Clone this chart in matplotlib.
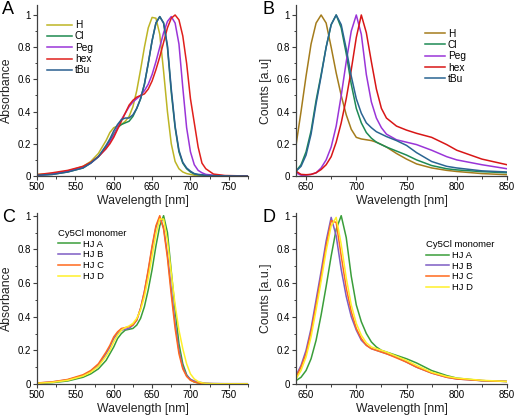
import numpy as np
import matplotlib.pyplot as plt
from matplotlib.ticker import MultipleLocator

plt.rcParams['font.family'] = ['Liberation Sans', 'DejaVu Sans']

# panel A: absorbance of the dyes
wl_a = [500, 520, 540, 560, 570, 580, 590, 595, 600, 605, 610, 615, 620, 625, 630, 635, 640, 645,
        650, 655, 660, 665, 670, 675, 680, 685, 690, 695, 700, 705, 710, 715, 720, 730, 745, 775]
abs_h = [0.01, 0.015, 0.03, 0.06, 0.09, 0.14, 0.22, 0.27, 0.30, 0.31, 0.32, 0.34, 0.37, 0.43, 0.53, 0.66, 0.80, 0.92,
         0.985, 0.98, 0.88, 0.65, 0.40, 0.20, 0.09, 0.045, 0.025, 0.015, 0.01, 0.005, 0.003, 0.001, 0.001, 0, 0, 0]
abs_cl = [0.005, 0.01, 0.025, 0.05, 0.08, 0.12, 0.18, 0.22, 0.26, 0.30, 0.32, 0.33, 0.34, 0.37, 0.42, 0.48, 0.57, 0.70,
          0.84, 0.95, 0.99, 0.95, 0.80, 0.52, 0.30, 0.15, 0.08, 0.045, 0.025, 0.012, 0.008, 0.006, 0.003, 0.001, 0, 0]
abs_peg = [0.005, 0.012, 0.03, 0.055, 0.08, 0.12, 0.17, 0.21, 0.25, 0.30, 0.35, 0.39, 0.43, 0.46, 0.48, 0.50, 0.53, 0.57,
           0.63, 0.71, 0.80, 0.89, 0.96, 0.99, 0.95, 0.82, 0.55, 0.30, 0.15, 0.07, 0.035, 0.02, 0.01, 0.005, 0.001, 0]
abs_hex = [0.008, 0.02, 0.035, 0.06, 0.085, 0.12, 0.17, 0.20, 0.24, 0.29, 0.34, 0.39, 0.44, 0.47, 0.49, 0.50, 0.51, 0.54,
           0.59, 0.66, 0.74, 0.83, 0.92, 0.98, 1.0, 0.97, 0.87, 0.70, 0.48, 0.33, 0.18, 0.08, 0.045, 0.012, 0.003, 0]
abs_tbu = [0.005, 0.01, 0.025, 0.05, 0.08, 0.12, 0.19, 0.23, 0.28, 0.32, 0.35, 0.36, 0.36, 0.38, 0.42, 0.48, 0.57, 0.70,
           0.84, 0.95, 0.99, 0.95, 0.81, 0.54, 0.31, 0.16, 0.085, 0.05, 0.03, 0.015, 0.01, 0.008, 0.004, 0.002, 0.001, 0]

# panel B: emission of the dyes
wl_b = [640, 645, 650, 655, 660, 665, 670, 675, 680, 685, 690, 695, 700, 705, 710, 715, 720, 725, 730,
        740, 750, 760, 775, 790, 800, 825, 850]
em_h = [0.19, 0.40, 0.62, 0.82, 0.95, 1.0, 0.95, 0.80, 0.64, 0.50, 0.38, 0.29, 0.24, 0.23, 0.225, 0.22, 0.21, 0.195, 0.18,
        0.14, 0.105, 0.075, 0.05, 0.035, 0.028, 0.015, 0.008]
em_cl = [0.03, 0.07, 0.15, 0.28, 0.47, 0.63, 0.80, 0.94, 1.0, 0.92, 0.76, 0.57, 0.42, 0.33, 0.27, 0.235, 0.21, 0.195, 0.18,
         0.155, 0.13, 0.10, 0.065, 0.045, 0.038, 0.027, 0.02]
em_peg = [0.02, 0.005, 0.005, 0.01, 0.02, 0.05, 0.10, 0.18, 0.31, 0.50, 0.71, 0.90, 1.0, 0.88, 0.63, 0.46, 0.36, 0.30, 0.26,
          0.225, 0.21, 0.195, 0.16, 0.12, 0.10, 0.07, 0.045]
em_hex = [0.03, 0.01, 0.008, 0.01, 0.02, 0.04, 0.07, 0.12, 0.21, 0.33, 0.48, 0.66, 0.86, 1.0, 0.89, 0.71, 0.54, 0.42, 0.36,
          0.31, 0.285, 0.265, 0.24, 0.195, 0.16, 0.105, 0.07]
em_tbu = [0.03, 0.06, 0.13, 0.26, 0.45, 0.62, 0.80, 0.94, 1.0, 0.94, 0.79, 0.62, 0.48, 0.39, 0.33, 0.30, 0.275, 0.26, 0.245,
          0.22, 0.19, 0.145, 0.09, 0.06, 0.05, 0.032, 0.025]

# panel C: absorbance of Cy5Cl monomer in the junctions
wl_c = wl_a
abs_hja = [0.003, 0.008, 0.018, 0.04, 0.06, 0.09, 0.14, 0.18, 0.22, 0.27, 0.30, 0.32, 0.325, 0.33, 0.35, 0.39, 0.46, 0.56,
           0.68, 0.82, 0.94, 1.0, 0.90, 0.67, 0.44, 0.24, 0.12, 0.055, 0.025, 0.012, 0.006, 0.003, 0.002, 0.001, 0, 0]
abs_hjb = [0.005, 0.012, 0.025, 0.05, 0.075, 0.11, 0.18, 0.22, 0.27, 0.30, 0.32, 0.325, 0.33, 0.35, 0.38, 0.45, 0.55, 0.67,
           0.81, 0.93, 0.99, 0.93, 0.77, 0.56, 0.36, 0.20, 0.10, 0.05, 0.028, 0.018, 0.012, 0.008, 0.005, 0.003, 0.002, 0.002]
abs_hjc = [0.006, 0.013, 0.027, 0.055, 0.08, 0.12, 0.19, 0.23, 0.28, 0.31, 0.33, 0.335, 0.34, 0.35, 0.38, 0.45, 0.55, 0.68,
           0.82, 0.94, 1.0, 0.92, 0.75, 0.53, 0.33, 0.18, 0.09, 0.045, 0.022, 0.012, 0.006, 0.003, 0.002, 0.001, 0.001, 0.001]
abs_hjd = [0.004, 0.01, 0.022, 0.047, 0.07, 0.105, 0.165, 0.20, 0.25, 0.29, 0.32, 0.335, 0.345, 0.36, 0.39, 0.44, 0.52, 0.63,
           0.76, 0.89, 0.98, 0.98, 0.85, 0.66, 0.47, 0.32, 0.21, 0.12, 0.06, 0.03, 0.015, 0.007, 0.004, 0.002, 0.001, 0.001]

# panel D: emission of Cy5Cl monomer in the junctions
wl_d = wl_b
em_hja = [0.02, 0.04, 0.08, 0.15, 0.26, 0.41, 0.58, 0.76, 0.92, 1.0, 0.87, 0.64, 0.47, 0.37, 0.30, 0.25, 0.22, 0.20, 0.19,
          0.17, 0.15, 0.125, 0.08, 0.05, 0.035, 0.02, 0.015]
em_hjb = [0.05, 0.11, 0.20, 0.33, 0.50, 0.67, 0.85, 0.99, 0.88, 0.68, 0.52, 0.40, 0.32, 0.26, 0.23, 0.21, 0.20, 0.19, 0.18,
          0.16, 0.13, 0.10, 0.065, 0.04, 0.03, 0.02, 0.015]
em_hjc = [0.04, 0.10, 0.18, 0.31, 0.47, 0.64, 0.82, 0.97, 0.96, 0.76, 0.57, 0.43, 0.33, 0.27, 0.23, 0.21, 0.20, 0.19, 0.18,
          0.155, 0.13, 0.10, 0.065, 0.04, 0.03, 0.02, 0.015]
em_hjd = [0.03, 0.08, 0.16, 0.28, 0.44, 0.61, 0.79, 0.94, 0.99, 0.83, 0.63, 0.47, 0.36, 0.29, 0.245, 0.22, 0.21, 0.20, 0.19,
          0.165, 0.14, 0.11, 0.07, 0.045, 0.035, 0.022, 0.015]

dye_labels = ['H', 'Cl', 'Peg', 'hex', 'tBu']
colors_a = ['#bdb525', '#1e8a50', '#9a35d8', '#e0201c', '#2a5f90']
colors_b = ['#a47c1c', '#1e8a55', '#9a35d8', '#d81616', '#2a6592']
hj_labels = ['HJ A', 'HJ B', 'HJ C', 'HJ D']
colors_hj = ['#3a9e3a', '#7d5cc4', '#ff6a1c', '#fff02a']

fig = plt.figure(figsize=(5.17, 4.19), dpi=100)
W, H = 517, 419


def make_ax(x0, x1, y0, y1):
    # pixel box -> figure fraction
    return fig.add_axes([x0 / W, 1 - y1 / H, (x1 - x0) / W, (y1 - y0) / H])


def style(ax, xlim, ylim, xlabel, ylabel):
    ax.set_xlim(*xlim)
    ax.set_ylim(*ylim)
    ax.spines['top'].set_visible(False)
    ax.spines['right'].set_visible(False)
    for s in ['left', 'bottom']:
        ax.spines[s].set_color('#404040')
        ax.spines[s].set_linewidth(0.9)
    ax.xaxis.set_major_locator(MultipleLocator(50))
    ax.xaxis.set_minor_locator(MultipleLocator(25))
    ax.yaxis.set_major_locator(MultipleLocator(0.2))
    ax.yaxis.set_minor_locator(MultipleLocator(0.1))
    ax.yaxis.set_major_formatter(plt.FuncFormatter(lambda v, p: '%g' % round(v, 1)))
    ax.tick_params(which='major', length=3, width=0.8, color='#404040', labelsize=7, pad=1.5)
    ax.tick_params(which='minor', length=1.8, width=0.7, color='#404040')
    ax.set_xlabel(xlabel, fontsize=8.8, labelpad=2, color='#222222')
    ax.set_ylabel(ylabel, fontsize=8.8, labelpad=3, color='#222222')


axA = make_ax(37, 248, 5, 176)
for y, c, lab in zip([abs_h, abs_cl, abs_peg, abs_hex, abs_tbu], colors_a, dye_labels):
    axA.plot(wl_a, y, color=c, lw=1.1, label=lab)
style(axA, (500, 775), (0, 1.062), 'Wavelength [nm]', 'Absorbance')
axA.legend(loc='upper left', bbox_to_anchor=(0.03, 0.935), frameon=False, fontsize=7.3,
           handlelength=2.4, handletextpad=0.3, labelspacing=0.13, borderaxespad=0)

axB = make_ax(296, 507, 5, 176)
for y, c, lab in zip([em_h, em_cl, em_peg, em_hex, em_tbu], colors_b, dye_labels):
    axB.plot(wl_b, y, color=c, lw=1.1, label=lab)
style(axB, (640, 850), (0, 1.062), 'Wavelength [nm]', 'Counts [a.u]')
axB.legend(loc='upper left', bbox_to_anchor=(0.59, 0.885), frameon=False, fontsize=7.3,
           handlelength=2.0, handletextpad=0.3, labelspacing=0.13, borderaxespad=0)

axC = make_ax(37, 248, 213, 384)
for y, c, lab in zip([abs_hja, abs_hjb, abs_hjc, abs_hjd], colors_hj, hj_labels):
    axC.plot(wl_c, y, color=c, lw=1.1, label=lab)
style(axC, (500, 775), (0, 1.016), 'Wavelength [nm]', 'Absorbance')
axC.legend(loc='upper left', bbox_to_anchor=(0.08, 0.928), frameon=False, fontsize=6.8,
           title='Cy5Cl monomer', title_fontsize=6.8, alignment='left',
           handlelength=2.4, handletextpad=0.3, labelspacing=0.18, borderaxespad=0)

axD = make_ax(296, 507, 213, 384)
for y, c, lab in zip([em_hja, em_hjb, em_hjc, em_hjd], colors_hj, hj_labels):
    axD.plot(wl_d, y, color=c, lw=1.1, label=lab)
style(axD, (640, 850), (0, 1.016), 'Wavelength [nm]', 'Counts [a.u.]')
axD.legend(loc='upper left', bbox_to_anchor=(0.6, 0.862), frameon=False, fontsize=6.8,
           title='Cy5Cl monomer', title_fontsize=6.8, alignment='left',
           handlelength=2.4, handletextpad=0.3, labelspacing=0.18, borderaxespad=0)

for lab, x, y in [('A', 2, 1), ('B', 262, 1), ('C', 2, 209), ('D', 262, 209)]:
    fig.text(x / W, 1 - y / H, lab, fontsize=13, va='top', ha='left')

fig.savefig('out.png', dpi=100)
